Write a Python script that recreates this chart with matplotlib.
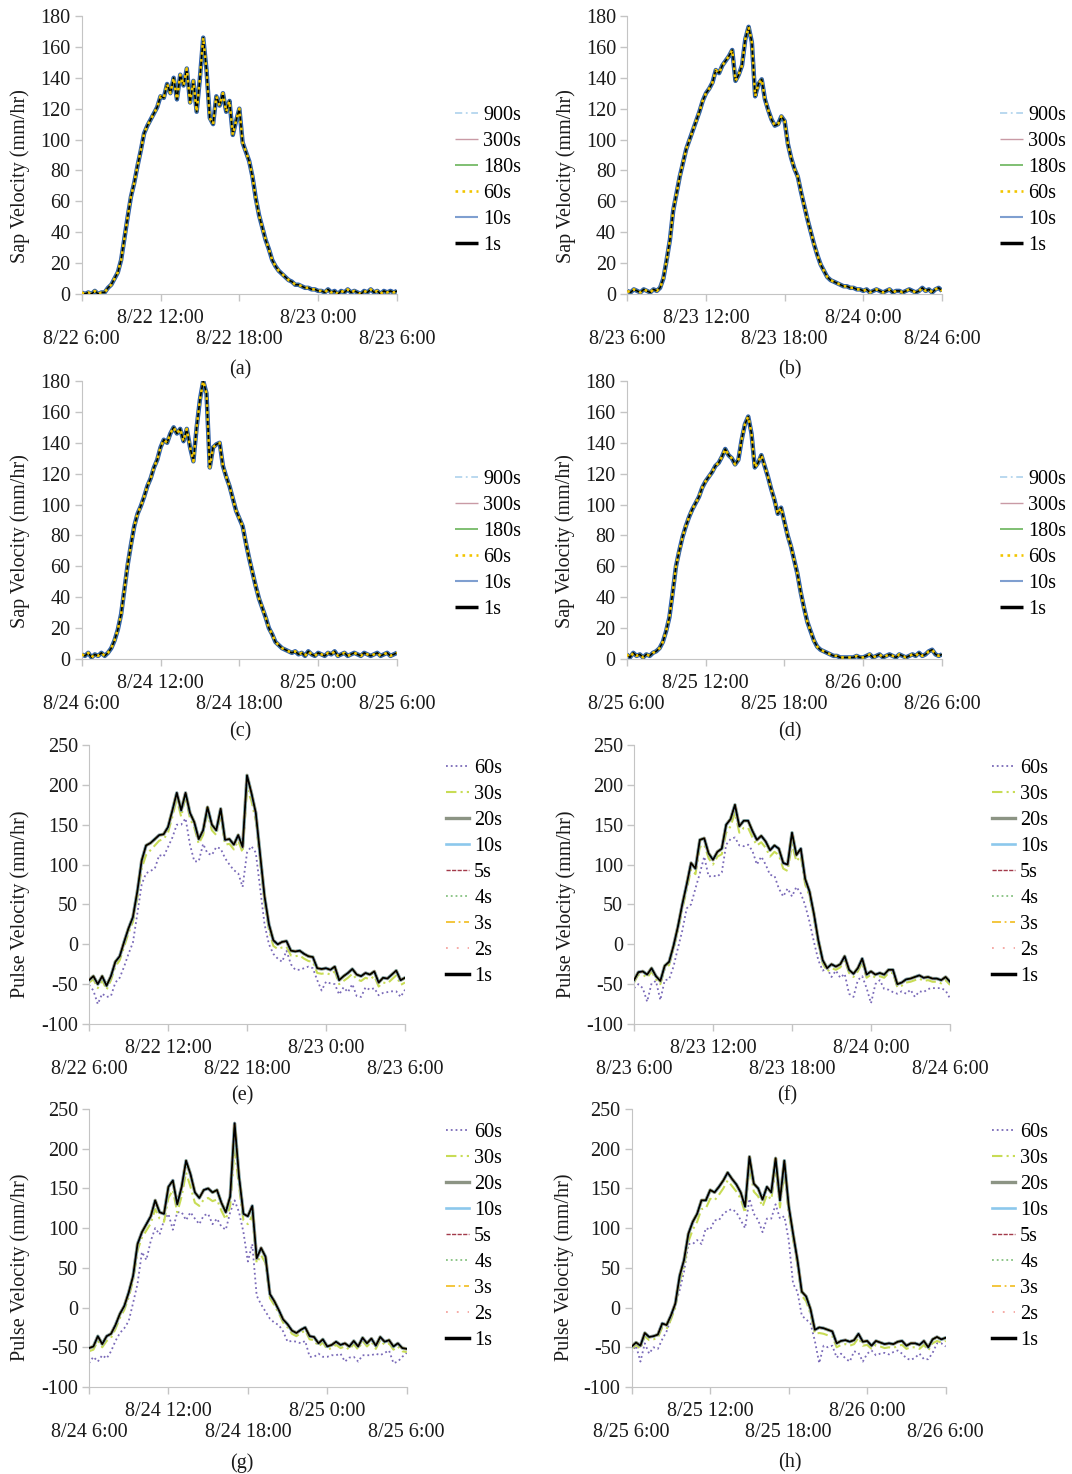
import matplotlib
matplotlib.use("Agg")
import matplotlib.pyplot as plt
import numpy as np
import pandas as pd

# sap velocity, 15 min steps from 6:00 to 6:00 next day (mm/hr)
sap_a = [1, 0, 1, 0, 2, 0, 1, 1, 4, 6, 10, 14, 22, 36, 50, 63, 72, 83, 93, 104, 109, 113, 117, 121, 128,
         127, 136, 130, 140, 126, 142, 135, 146, 124, 138, 118, 140, 166, 145, 114, 110, 128, 122, 130, 118, 125, 103, 112, 120, 98,
         92, 86, 76, 62, 51, 43, 35, 29, 22, 18, 15, 13, 11, 9, 8, 6, 6, 5, 4, 4, 3, 3, 2,
         2, 1, 3, 1, 2, 0, 2, 1, 3, 1, 2, 1, 0, 2, 1, 3, 1, 2, 0, 2, 1, 2, 1, 2]
sap_b = [2, 1, 3, 2, 1, 3, 2, 1, 3, 2, 4, 10, 22, 35, 54, 65, 76, 85, 94, 100, 106, 112, 118, 125, 130,
         133, 137, 145, 143, 148, 151, 154, 158, 138, 142, 148, 165, 173, 163, 128, 136, 139, 126, 119, 113, 109, 110, 115, 112, 97,
         88, 81, 76, 66, 57, 48, 40, 32, 25, 19, 15, 11, 9, 8, 7, 6, 5, 5, 4, 4, 3, 3, 2,
         3, 1, 2, 3, 2, 1, 2, 3, 1, 2, 2, 1, 2, 3, 2, 1, 2, 4, 2, 3, 1, 3, 4, 2]
sap_c = [3, 2, 4, 1, 3, 2, 4, 2, 4, 7, 12, 19, 29, 45, 61, 74, 86, 94, 99, 105, 112, 117, 124, 129, 137,
         142, 140, 146, 150, 146, 149, 141, 149, 137, 128, 150, 168, 180, 172, 124, 137, 139, 140, 125, 118, 112, 104, 96, 91, 86,
         75, 65, 56, 47, 39, 33, 27, 20, 16, 11, 9, 7, 6, 5, 4, 5,
         3, 4, 2, 5, 3, 2, 4, 3, 2, 4, 3, 5, 2, 3, 4, 2, 3, 4, 3, 2, 4, 3, 2, 3, 4, 2, 3, 4, 2, 3, 4]
sap_d = [3, 1, 4, 2, 3, 1, 3, 2, 4, 5, 7, 11, 18, 27, 43, 60, 70, 79, 86, 92, 97, 101, 105, 111, 115,
         118, 121, 125, 127, 131, 136, 132, 130, 126, 129, 142, 152, 157, 146, 124, 127, 132, 125, 118, 110, 103, 94, 98, 89, 80,
         73, 64, 55, 43, 33, 24, 18, 12, 8, 6, 5, 4, 3, 2, 2, 1, 1, 1, 1, 1, 2, 1, 1,
         2, 3, 1, 2, 3, 1, 2, 3, 2, 1, 3, 2, 1, 2, 3, 2, 4, 2, 3, 5, 6, 3, 2, 3]

# pulse velocity, 20 min steps (1s..20s nearly identical -> "main")
pe_main = [-45, -40, -50, -40, -52, -40, -22, -15, 3, 20, 34, 66, 105, 124, 127, 132, 137, 138, 147, 168,
           190, 168, 190, 165, 153, 132, 143, 172, 150, 143, 170, 131, 132, 125, 137, 122, 212, 190, 165, 112,
           60, 25, 5, 0, 3, 4, -8, -9, -8, -12, -15, -16, -30, -31, -30, -32, -28, -45, -40, -36,
           -31, -38, -40, -36, -38, -34, -48, -42, -43, -38, -33, -45, -42]
pe_30 = [-48, -44, -55, -45, -57, -45, -28, -20, -3, 14, 28, 58, 95, 112, 118, 124, 130, 132, 140, 160,
         182, 160, 185, 158, 146, 126, 137, 164, 143, 137, 162, 125, 126, 119, 130, 115, 195, 180, 155, 104,
         52, 18, -2, -6, -4, -3, -14, -15, -14, -18, -21, -22, -36, -37, -36, -38, -34, -50, -46, -42,
         -37, -44, -46, -42, -44, -40, -53, -48, -49, -44, -39, -51, -48]
pe_60 = [-51, -58, -75, -62, -66, -65, -48, -42, -28, -12, 2, 38, 75, 89, 92, 95, 112, 110, 122, 134,
         150, 150, 158, 125, 104, 104, 126, 114, 112, 122, 120, 108, 100, 93, 89, 72, 115, 123, 115, 70,
         25, 0, -12, -18, -22, -8, -25, -32, -32, -30, -28, -30, -45, -58, -47, -49, -50, -63, -54, -60,
         -50, -65, -66, -54, -57, -55, -64, -61, -60, -59, -59, -66, -57]

pf_main = [-45, -35, -34, -38, -30, -40, -46, -27, -22, -2, 22, 50, 75, 102, 95, 131, 133, 114, 106, 116,
           120, 150, 157, 175, 148, 155, 155, 142, 131, 136, 129, 118, 124, 120, 102, 100, 140, 112, 120, 82,
           66, 38, 5, -20, -30, -25, -28, -25, -15, -32, -37, -30, -18, -38, -34, -38, -36, -38, -32, -32,
           -50, -48, -44, -43, -41, -39, -42, -41, -43, -43, -45, -41, -47]
pf_30 = [-48, -38, -38, -42, -34, -44, -50, -31, -26, -6, 17, 44, 68, 94, 88, 122, 125, 108, 100, 110,
         113, 140, 148, 165, 140, 146, 146, 134, 124, 128, 121, 110, 116, 112, 95, 92, 125, 104, 111, 75,
         60, 33, 0, -24, -34, -30, -32, -29, -20, -36, -41, -34, -23, -42, -38, -42, -40, -42, -36, -36,
         -54, -52, -48, -47, -45, -43, -46, -45, -47, -47, -49, -45, -51]
pf_60 = [-55, -50, -55, -72, -49, -46, -70, -45, -44, -28, -5, 17, 45, 50, 70, 89, 110, 85, 86, 85,
         90, 125, 132, 134, 124, 123, 125, 117, 100, 110, 100, 87, 86, 70, 60, 70, 60, 72, 64, 49,
         28, 3, -20, -33, -30, -41, -33, -42, -37, -62, -66, -45, -40, -55, -74, -50, -45, -56, -57, -60,
         -62, -59, -62, -57, -66, -59, -60, -56, -55, -55, -55, -58, -68]

pg_main = [-51, -49, -36, -46, -36, -33, -22, -8, 2, 19, 40, 80, 95, 105, 115, 135, 120, 118, 152, 160,
           130, 152, 185, 168, 145, 138, 148, 150, 145, 148, 132, 120, 140, 232, 165, 118, 115, 128, 62, 75,
           64, 17, 8, -3, -15, -21, -29, -32, -28, -25, -36, -37, -45, -40, -49, -47, -43, -47, -45, -49,
           -42, -49, -38, -45, -39, -48, -37, -43, -41, -49, -45, -51, -52]
pg_30 = [-55, -53, -42, -50, -42, -38, -27, -13, -3, 13, 34, 72, 88, 97, 106, 124, 112, 108, 138, 148,
         120, 140, 170, 152, 132, 128, 136, 138, 134, 136, 122, 111, 128, 200, 152, 110, 105, 116, 56, 66,
         56, 12, 3, -7, -19, -25, -33, -36, -32, -29, -40, -41, -49, -44, -53, -51, -47, -51, -49, -53,
         -46, -53, -42, -49, -43, -52, -41, -47, -45, -53, -49, -55, -56]
pg_60 = [-70, -62, -68, -60, -64, -55, -42, -32, -26, -17, 6, 30, 70, 60, 84, 100, 92, 110, 118, 98,
         120, 120, 110, 120, 112, 105, 116, 118, 105, 112, 102, 98, 120, 135, 120, 95, 58, 80, 15, 4,
         -5, -14, -19, -22, -30, -43, -42, -43, -45, -42, -62, -62, -58, -62, -62, -60, -60, -58, -68, -63,
         -62, -68, -60, -60, -60, -58, -60, -57, -54, -70, -68, -62, -57]

ph_main = [-49, -44, -48, -32, -37, -36, -34, -20, -22, -10, 5, 40, 60, 93, 108, 118, 135, 135, 148, 145,
           152, 160, 170, 162, 155, 145, 127, 190, 156, 150, 136, 152, 145, 188, 135, 185, 128, 93, 60, 20,
           14, -2, -28, -25, -26, -28, -30, -45, -42, -41, -43, -41, -33, -43, -42, -48, -42, -44, -46, -45,
           -46, -43, -42, -48, -45, -45, -47, -42, -50, -40, -37, -40, -38]
ph_30 = [-52, -47, -52, -36, -41, -40, -38, -25, -27, -15, 0, 33, 52, 83, 98, 108, 124, 125, 137, 135,
         142, 150, 160, 153, 146, 137, 119, 178, 146, 140, 127, 142, 136, 175, 126, 170, 120, 86, 54, 15,
         8, -8, -33, -32, -33, -35, -36, -50, -47, -46, -48, -46, -38, -48, -47, -52, -47, -49, -51, -50,
         -51, -48, -47, -52, -50, -50, -52, -47, -54, -45, -42, -44, -42]
ph_60 = [-57, -48, -68, -45, -58, -50, -52, -40, -30, -14, 4, 22, 45, 80, 80, 85, 80, 100, 98, 110,
         110, 118, 122, 124, 120, 110, 100, 137, 118, 110, 95, 112, 112, 130, 112, 115, 85, 30, 20, -10,
         -15, -20, -42, -70, -48, -50, -48, -63, -58, -64, -68, -55, -57, -68, -58, -54, -60, -58, -57, -59,
         -56, -54, -58, -64, -66, -63, -58, -65, -65, -57, -45, -45, -49]

sap_labels = ["900s", "300s", "180s", "60s", "10s", "1s"]
pulse_labels = ["60s", "30s", "20s", "10s", "5s", "4s", "3s", "2s", "1s"]

W, H = 1072, 1474
plt.rcParams['font.family'] = ['Liberation Serif', 'DejaVu Serif']
plt.rcParams['font.size'] = 14.5
plt.rcParams['axes.unicode_minus'] = False
fig = plt.figure(figsize=(W / 100, H / 100), dpi=100)


def rect(l, r, top, bot):
    return [l / W, 1 - bot / H, (r - l) / W, (bot - top) / H]


def tick_text(t):
    # Excel-style staggered labels: 6:00 and 18:00 on the lower row
    s = f"{t.month}/{t.day} {t.hour}:{t.minute:02d}"
    return "\n" + s if t.hour in (6, 18) else s


def style_axes(ax, start, ylabel, lab_x, lab_y):
    t0 = pd.Timestamp(start)
    ticks = [t0 + pd.Timedelta(hours=h) for h in (0, 6, 12, 18, 24)]
    ax.set_xlim(ticks[0], ticks[-1])
    ax.set_xticks(ticks)
    ax.set_xticklabels([tick_text(t) for t in ticks], linespacing=1.12)
    for s in ("top", "right"):
        ax.spines[s].set_visible(False)
    for s in ("left", "bottom"):
        ax.spines[s].set_color("#c4c4c4")
    ax.tick_params(direction="out", length=5, width=1, color="#c4c4c4",
                   labelcolor="#1a1a1a")
    ax.tick_params(axis="x", pad=6)
    ax.tick_params(axis="y", pad=3)
    ax.set_ylabel(ylabel, color="#1a1a1a")
    ax.yaxis.set_label_coords(lab_x, lab_y)


def legend(ax, hx, hy):
    leg = ax.legend(loc="upper left", bbox_to_anchor=(hx / W, 1 - (hy - 11) / H),
                    bbox_transform=fig.transFigure, frameon=False, handlelength=1.15,
                    handletextpad=0.25, labelspacing=0.34, borderpad=0, borderaxespad=0)
    return leg


sap_styles = [
    dict(color="#b4d6ee", ls=(0, (4, 2, 1, 2)), lw=1.3, zorder=1),
    dict(color="#c99aa5", ls="-", lw=1.0, zorder=1),
    dict(color="#7fbf72", ls="-", lw=1.4, zorder=2.5),
    dict(color="#f2c500", ls=":", lw=1.9, zorder=4),
    dict(color="#2f5fa8", ls="-", lw=3.2, zorder=2),
    dict(color="black", ls="-", lw=1.2, zorder=3),
]
pulse_styles = [
    dict(color="#7a6ab8", ls=":", lw=1.3, zorder=2),
    dict(color="#c8dc55", ls=(0, (5, 2, 1, 2)), lw=1.5, zorder=2.2),
    dict(color="#8c9484", ls="-", lw=2.4, zorder=3),
    dict(color="#8cc8ec", ls="-", lw=1.9, zorder=3.2),
    dict(color="#a33a4a", ls=(0, (3, 1)), lw=1.0, zorder=3.4),
    dict(color="#86c280", ls=":", lw=1.3, zorder=3.5),
    dict(color="#f2c12e", ls=(0, (5, 2, 1, 2)), lw=1.3, zorder=3.6),
    dict(color="#f5a5a0", ls=(0, (1, 5)), lw=1.3, zorder=3.7),
    dict(color="black", ls="-", lw=1.3, zorder=4),
]

sap_panels = [
    (sap_a, "2013-08-22 06:00", rect(81.7, 397, 16, 294), -0.164, (455, 117), (240, 370), "(a)"),
    (sap_b, "2013-08-23 06:00", rect(627.3, 942, 16, 294), -0.163, (1000, 117), (790, 370), "(b)"),
    (sap_c, "2013-08-24 06:00", rect(81.7, 397, 381, 659), -0.164, (455, 481), (240, 732), "(c)"),
    (sap_d, "2013-08-25 06:00", rect(626.7, 942, 381, 659), -0.163, (1000, 481), (790, 732), "(d)"),
]
for vals, start, r, lx, (hx, hy), (cx, cy), cap in sap_panels:
    ax = fig.add_axes(r)
    t = pd.date_range(start, periods=len(vals), freq="15min")
    for lab, st in zip(sap_labels, sap_styles):
        ax.plot(t, vals, label=lab, solid_capstyle="butt", **st)
    ax.set_ylim(0, 180)
    ax.set_yticks(np.arange(0, 181, 20))
    style_axes(ax, start, "Sap Velocity (mm/hr)", lx, 0.424)
    leg = legend(ax, hx, hy)
    leg.get_lines()[-1].set_linewidth(2.5)
    leg.get_lines()[-2].set_linewidth(1.5)
    leg.get_lines()[-2].set_color("#7f9fd0")
    fig.text(cx / W, 1 - cy / H, cap, ha="center", va="center", color="#1a1a1a")

pulse_panels = [
    (pe_main, pe_30, pe_60, "2013-08-22 06:00", rect(89, 405, 745, 1024), -0.187, (446, 770), (242, 1096), "(e)"),
    (pf_main, pf_30, pf_60, "2013-08-23 06:00", rect(634, 950, 745, 1024), -0.184, (992, 770), (787, 1096), "(f)"),
    (pg_main, pg_30, pg_60, "2013-08-24 06:00", rect(89, 406.7, 1109, 1387), -0.187, (446, 1134), (242, 1463), "(g)"),
    (ph_main, ph_30, ph_60, "2013-08-25 06:00", rect(631.7, 945.7, 1109, 1387), -0.184, (992, 1134), (790, 1463), "(h)"),
]
for main, s30, s60, start, r, lx, (hx, hy), (cx, cy), cap in pulse_panels:
    ax = fig.add_axes(r)
    t = pd.date_range(start, periods=len(main), freq="20min")
    series = [s60, s30] + [main] * 7
    for lab, vals, st in zip(pulse_labels, series, pulse_styles):
        ax.plot(t, vals, label=lab, **st)
    ax.set_ylim(-100, 250)
    ax.set_yticks(np.arange(-100, 251, 50))
    style_axes(ax, start, "Pulse Velocity (mm/hr)", lx, 0.43)
    leg = legend(ax, hx, hy)
    leg.get_lines()[-1].set_linewidth(2.5)
    fig.text(cx / W, 1 - cy / H, cap, ha="center", va="center", color="#1a1a1a")

fig.savefig("out.png", dpi=100, facecolor="white")
